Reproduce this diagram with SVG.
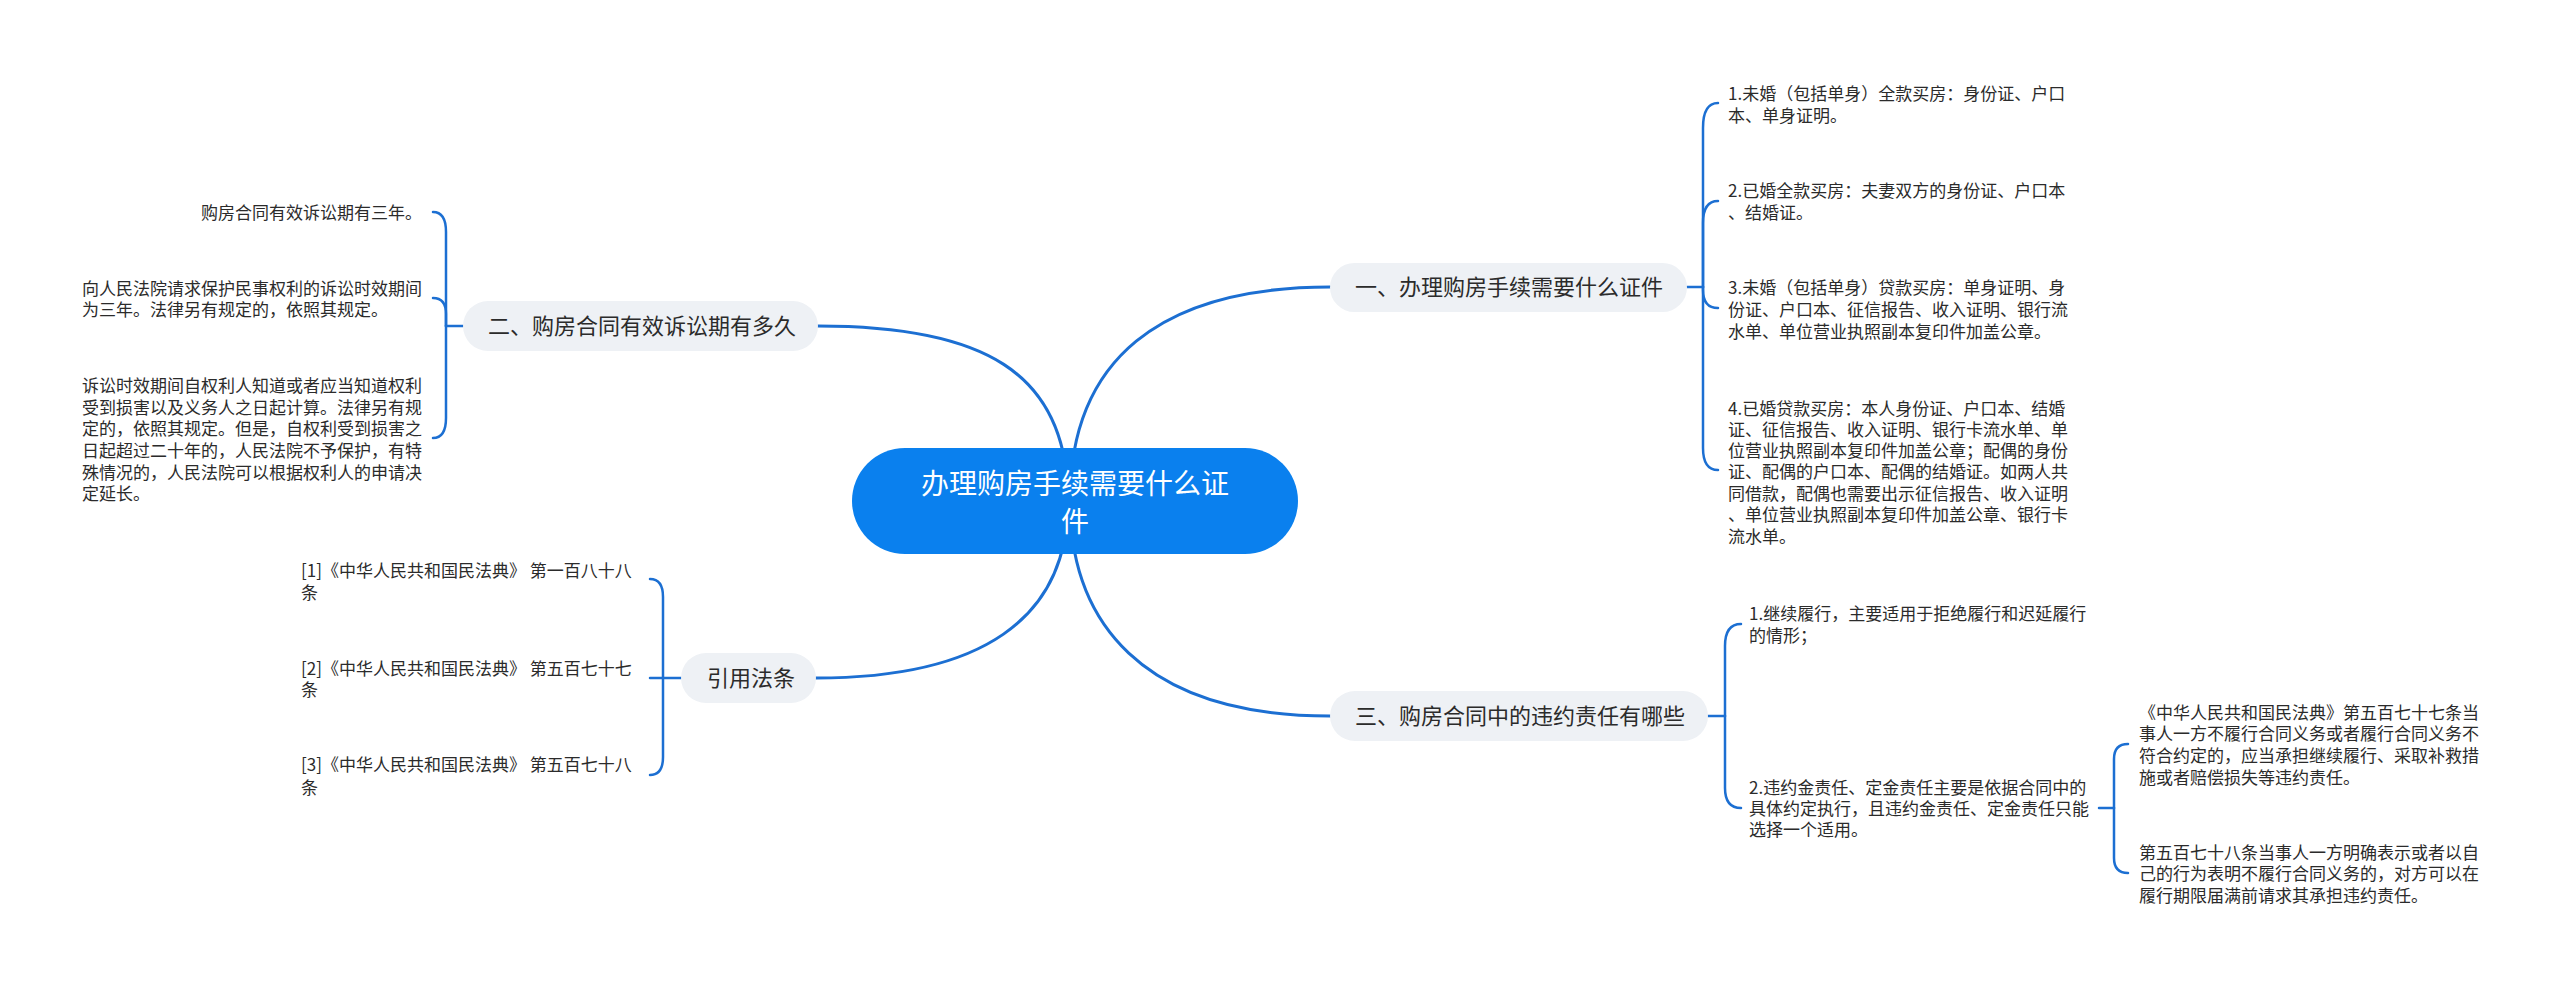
<svg xmlns="http://www.w3.org/2000/svg" width="2560" height="987" viewBox="0 0 2560 987">
<style>
.ln{fill:none;stroke:#1c6fd2;stroke-width:3;stroke-linecap:round}
.br{fill:none;stroke:#1c6fd2;stroke-width:2.5;stroke-linecap:round}
.box{fill:#eef1f5}
.bt{font-family:"Noto Sans CJK SC",sans-serif;font-size:22px;fill:#2b2b2b}
.t{font-family:"Noto Sans CJK SC",sans-serif;font-size:17px;fill:#2b2b2b}
.rt{font-family:"Noto Sans CJK SC",sans-serif;font-size:28px;fill:#ffffff}
</style>
<rect width="2560" height="987" fill="#ffffff"/>
<g id="connectors">
<path class="ln" d="M1068 501 C1068 370, 980 326, 818 326"/>
<path class="ln" d="M1070 501 C1070 360, 1160 287, 1330 287"/>
<path class="ln" d="M1068 501 C1068 620, 980 678, 816 678"/>
<path class="ln" d="M1070 501 C1070 620, 1140 716, 1330 716"/>
<!-- 一 bracket -->
<path class="br" d="M1687 287 L1703 287"/>
<path class="br" d="M1703 287 L1703 128 Q1703 103 1718 103"/>
<path class="br" d="M1703 287 L1703 223 Q1703 201 1718 201"/>
<path class="br" d="M1703 287 L1703 290 Q1703 308 1718 308"/>
<path class="br" d="M1703 287 L1703 448 Q1703 470 1718 470"/>
<!-- 二 bracket -->
<path class="br" d="M463 326 L446 326"/>
<path class="br" d="M446 326 L446 232 Q446 212 433 212"/>
<path class="br" d="M446 326 L446 314 Q446 298 433 298"/>
<path class="br" d="M446 326 L446 418 Q446 438 433 438"/>
<!-- 引用法条 bracket -->
<path class="br" d="M681 678 L650 678"/>
<path class="br" d="M663 678 L663 597 Q663 579 650 579"/>
<path class="br" d="M663 678 L663 757 Q663 775 650 775"/>
<!-- 三 bracket -->
<path class="br" d="M1708 716 L1725 716"/>
<path class="br" d="M1725 716 L1725 646 Q1725 624 1741 624"/>
<path class="br" d="M1725 716 L1725 788 Q1725 808 1741 808"/>
<!-- sub bracket -->
<path class="br" d="M2099 808 L2114 808"/>
<path class="br" d="M2114 808 L2114 759 Q2114 744 2128 744"/>
<path class="br" d="M2114 808 L2114 858 Q2114 873 2128 873"/>
</g>
<g id="root">
<rect x="852" y="448" width="446" height="106" rx="53" fill="#0a80ee"/>
<text class="rt" x="1075" y="494" text-anchor="middle">办理购房手续需要什么证</text>
<text class="rt" x="1075" y="532" text-anchor="middle">件</text>
</g>
<g id="branch1">
<rect class="box" x="1330" y="263" width="357" height="49" rx="24.5"/>
<text class="bt" x="1355" y="295">一、办理购房手续需要什么证件</text>
</g>
<g id="branch2">
<rect class="box" x="463" y="301" width="355" height="50" rx="25"/>
<text class="bt" x="488" y="334">二、购房合同有效诉讼期有多久</text>
</g>
<g id="branch3">
<rect class="box" x="1330" y="691" width="378" height="50" rx="25"/>
<text class="bt" x="1355" y="724">三、购房合同中的违约责任有哪些</text>
</g>
<g id="branch4">
<rect class="box" x="681" y="653" width="135" height="50" rx="25"/>
<text class="bt" x="707" y="686">引用法条</text>
</g>
<g id="b1c1"><text class="t" x="1728"><tspan x="1728" y="99.5">1.未婚（包括单身）全款买房：身份证、户口</tspan><tspan x="1728" y="121.5">本、单身证明。</tspan></text></g>
<g id="b1c2"><text class="t" x="1728"><tspan x="1728" y="196.5">2.已婚全款买房：夫妻双方的身份证、户口本</tspan><tspan x="1728" y="218.5">、结婚证。</tspan></text></g>
<g id="b1c3"><text class="t" x="1728"><tspan x="1728" y="293.5">3.未婚（包括单身）贷款买房：单身证明、身</tspan><tspan x="1728" y="315.5">份证、户口本、征信报告、收入证明、银行流</tspan><tspan x="1728" y="337.5">水单、单位营业执照副本复印件加盖公章。</tspan></text></g>
<g id="b1c4"><text class="t" x="1728"><tspan x="1728" y="414.5">4.已婚贷款买房：本人身份证、户口本、结婚</tspan><tspan x="1728" y="435.5">证、征信报告、收入证明、银行卡流水单、单</tspan><tspan x="1728" y="456.5">位营业执照副本复印件加盖公章；配偶的身份</tspan><tspan x="1728" y="477.5">证、配偶的户口本、配偶的结婚证。如两人共</tspan><tspan x="1728" y="499.5">同借款，配偶也需要出示征信报告、收入证明</tspan><tspan x="1728" y="520.5">、单位营业执照副本复印件加盖公章、银行卡</tspan><tspan x="1728" y="542.5">流水单。</tspan></text></g>
<g id="b2c1"><text class="t" x="201" y="218.5">购房合同有效诉讼期有三年。</text></g>
<g id="b2c2"><text class="t" x="82"><tspan x="82" y="294.5">向人民法院请求保护民事权利的诉讼时效期间</tspan><tspan x="82" y="315.5">为三年。法律另有规定的，依照其规定。</tspan></text></g>
<g id="b2c3"><text class="t" x="82"><tspan x="82" y="391.5">诉讼时效期间自权利人知道或者应当知道权利</tspan><tspan x="82" y="413.5">受到损害以及义务人之日起计算。法律另有规</tspan><tspan x="82" y="434.5">定的，依照其规定。但是，自权利受到损害之</tspan><tspan x="82" y="456.5">日起超过二十年的，人民法院不予保护，有特</tspan><tspan x="82" y="478.5">殊情况的，人民法院可以根据权利人的申请决</tspan><tspan x="82" y="499.5">定延长。</tspan></text></g>
<g id="b3c1"><text class="t" x="1749"><tspan x="1749" y="619.5">1.继续履行，主要适用于拒绝履行和迟延履行</tspan><tspan x="1749" y="641.5">的情形；</tspan></text></g>
<g id="b3c2"><text class="t" x="1749"><tspan x="1749" y="793.5">2.违约金责任、定金责任主要是依据合同中的</tspan><tspan x="1749" y="814.5">具体约定执行，且违约金责任、定金责任只能</tspan><tspan x="1749" y="835.5">选择一个适用。</tspan></text></g>
<g id="b3c2s1"><text class="t" x="2139"><tspan x="2139" y="718.5">《中华人民共和国民法典》第五百七十七条当</tspan><tspan x="2139" y="739.5">事人一方不履行合同义务或者履行合同义务不</tspan><tspan x="2139" y="761.5">符合约定的，应当承担继续履行、采取补救措</tspan><tspan x="2139" y="783.5">施或者赔偿损失等违约责任。</tspan></text></g>
<g id="b3c2s2"><text class="t" x="2139"><tspan x="2139" y="858.5">第五百七十八条当事人一方明确表示或者以自</tspan><tspan x="2139" y="879.5">己的行为表明不履行合同义务的，对方可以在</tspan><tspan x="2139" y="901.5">履行期限届满前请求其承担违约责任。</tspan></text></g>
<g id="b4c1"><text class="t" x="301"><tspan x="301" y="576.5">[1]《中华人民共和国民法典》 第一百八十八</tspan><tspan x="301" y="598.5">条</tspan></text></g>
<g id="b4c2"><text class="t" x="301"><tspan x="301" y="674.5">[2]《中华人民共和国民法典》 第五百七十七</tspan><tspan x="301" y="695.5">条</tspan></text></g>
<g id="b4c3"><text class="t" x="301"><tspan x="301" y="770.5">[3]《中华人民共和国民法典》 第五百七十八</tspan><tspan x="301" y="793.5">条</tspan></text></g>
</svg>
